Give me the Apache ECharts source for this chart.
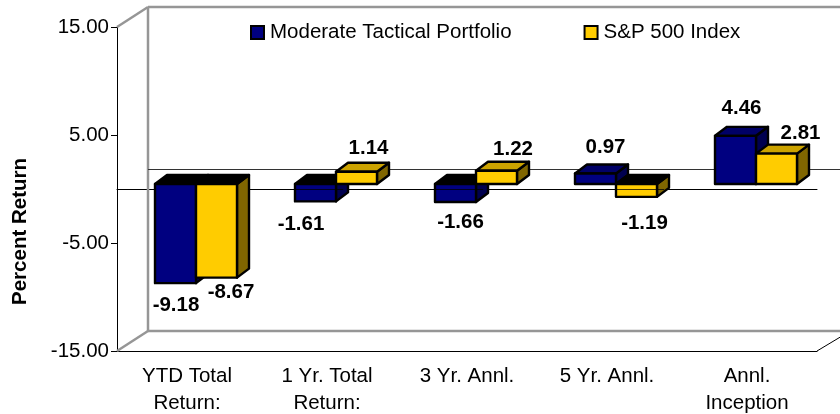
<!DOCTYPE html>
<html><head><meta charset="utf-8">
<style>html,body{margin:0;padding:0;background:#fff}#c{width:840px;height:414px}</style>
<script src="https://cdn.jsdelivr.net/npm/echarts@6/dist/echarts.min.js"></script>
</head><body><div id="c"></div>
<script>
const categories = ['YTD Total\nReturn:', '1 Yr. Total\nReturn:', '3 Yr. Annl.', '5 Yr. Annl.', 'Annl.\nInception'];
const portfolioName = 'Moderate Tactical Portfolio';
const indexName = 'S&P 500 Index';
const portfolio = [-9.18, -1.61, -1.66, 0.97, 4.46];
const sp500 = [-8.67, 1.14, 1.22, -1.19, 2.81];
const yTicks = [-15, -5, 5, 15];

const FONT = '"Liberation Sans", Arial, sans-serif';
const FS = 20.5;
const WALL = {dx: 31, dy: -20}, BAR_D = {dx: 12, dy: -9}, PLANE = {dx: 9, dy: -5};
const BAR_FRAC = 41 / 140;
const labelShift = {
  portfolio: [[0.5, 22], [-14.5, 23], [5, 20], [10, -26], [6, -27]],
  sp500: [[14.5, 15], [12, -23], [16.5, -21], [8, 26], [24, -20]]
};
const palette = {
  portfolio: {front: '#000080', side: '#00004F', top: '#000066'},
  sp500: {front: '#FFCC00', side: '#806600', top: '#CCA300'}
};

function poly(points, fill) {
  return {type: 'polygon', shape: {points}, style: {fill, stroke: '#000', lineWidth: 2.4, lineJoin: 'round'}};
}
function barRenderer(key, order) {
  return function (params, api) {
    const i = api.value(0), v = api.value(1);
    const w = api.size([1, 0])[0] * BAR_FRAC;
    const c = api.coord([i, 0]), e = api.coord([i, v]);
    const x0 = c[0] + PLANE.dx - w + order * w, x1 = x0 + w;
    const yTop = Math.min(c[1], e[1]) + PLANE.dy, yBot = Math.max(c[1], e[1]) + PLANE.dy;
    const d = BAR_D, col = palette[key];
    const kids = [
      poly([[x1, yTop], [x1 + d.dx, yTop + d.dy], [x1 + d.dx, yBot + d.dy], [x1, yBot]], col.side),
      poly([[x0, yTop], [x0 + d.dx, yTop + d.dy], [x1 + d.dx, yTop + d.dy], [x1, yTop]], v < 0 ? '#000' : col.top),
      poly([[x0, yTop], [x1, yTop], [x1, yBot], [x0, yBot]], col.front)
    ];
    if (v < 0 && v > -5) {
      kids.push({type: 'line', shape: {x1: x0, y1: c[1] + 0.5, x2: x1 + d.dx * 0.6, y2: c[1] + 0.5}, style: {stroke: '#000', lineWidth: 1, opacity: 0.75}});
    }
    const s = labelShift[key][i];
    kids.push({type: 'text', style: {
      text: v.toFixed(2), x: (x0 + x1) / 2 + s[0], y: e[1] + PLANE.dy + s[1],
      align: 'center', verticalAlign: 'middle', font: 'bold ' + FS + 'px ' + FONT, fill: '#000'
    }});
    return {type: 'group', children: kids};
  };
}
function wallRenderer(params, api) {
  const g = params.coordSys;
  const L = g.x, R = g.x + g.width, T = g.y, B = g.y + g.height;
  const z = api.coord([0, 0])[1];
  const edge = (a, b, c, d) => ({type: 'line', shape: {x1: a, y1: b, x2: c, y2: d}, style: {stroke: '#969696', lineWidth: 2.5}});
  return {type: 'group', children: [
    edge(L, T, L + WALL.dx, T + WALL.dy),
    edge(L + WALL.dx, T + WALL.dy, 842, T + WALL.dy),
    edge(L + WALL.dx, T + WALL.dy, L + WALL.dx, B + WALL.dy),
    edge(L + WALL.dx, B + WALL.dy, 842, B + WALL.dy),
    edge(L, B, L + WALL.dx, B + WALL.dy),
    {type: 'line', shape: {x1: R, y1: B, x2: 842, y2: B - 15}, style: {stroke: '#000', lineWidth: 1}},
    {type: 'line', shape: {x1: L + WALL.dx, y1: z + WALL.dy + 0.5, x2: 842, y2: z + WALL.dy + 0.5}, style: {stroke: '#333', lineWidth: 1}}
  ]};
}
const toRows = a => a.map((v, i) => [i, v]);
const chart = echarts.init(document.getElementById('c'), null, {renderer: 'canvas'});
chart.setOption({
  animation: false,
  backgroundColor: '#fff',
  grid: {left: 117, right: 23, top: 27, height: 324, containLabel: false, outerBoundsMode: 'none'},
  legend: {
    left: 245, top: 17, itemWidth: 13, itemHeight: 13, itemGap: 72,
    icon: 'rect', data: [portfolioName, indexName],
    textStyle: {fontFamily: FONT, fontSize: FS, color: '#000', padding: [0, 0, 0, 1]}
  },
  xAxis: [{
    type: 'category', data: categories, position: 'bottom',
    axisLine: {onZero: false, lineStyle: {color: '#000', width: 1}},
    axisTick: {length: 6, lineStyle: {color: '#000'}},
    axisLabel: {fontFamily: FONT, fontSize: FS, color: '#000', margin: 12, lineHeight: 27, interval: 0}
  }, {
    type: 'category', data: categories, position: 'bottom',
    axisLine: {onZero: true, lineStyle: {color: '#000', width: 1}},
    axisTick: {length: 5, lineStyle: {color: '#000'}},
    axisLabel: {show: false}
  }],
  yAxis: {
    type: 'value', min: yTicks[0], max: yTicks[yTicks.length - 1], interval: 10,
    axisLine: {show: true, onZero: false, lineStyle: {color: '#000', width: 1}},
    axisTick: {show: true, length: 6, lineStyle: {color: '#000'}},
    axisLabel: {fontFamily: FONT, fontSize: FS, color: '#000', margin: 8, formatter: v => v.toFixed(2)},
    splitLine: {show: false}
  },
  graphic: [{
    type: 'text', left: 10, top: 158, z: 5,
    rotation: Math.PI / 2,
    style: {text: 'Percent Return', font: 'bold ' + FS + 'px ' + FONT, fill: '#000'}
  }],
  series: [
    {type: 'custom', name: 'wall', silent: true, z: 1, clip: false, renderItem: wallRenderer, data: [[0, 0]], encode: {x: 0, y: 1}, xAxisIndex: 0},
    {type: 'custom', name: portfolioName, z: 3, clip: false, renderItem: barRenderer('portfolio', 0), data: toRows(portfolio), encode: {x: 0, y: 1},
      itemStyle: {color: palette.portfolio.front, borderColor: '#000', borderWidth: 2}},
    {type: 'custom', name: indexName, z: 4, clip: false, renderItem: barRenderer('sp500', 1), data: toRows(sp500), encode: {x: 0, y: 1},
      itemStyle: {color: palette.sp500.front, borderColor: '#000', borderWidth: 2}}
  ]
});
</script></body></html>
